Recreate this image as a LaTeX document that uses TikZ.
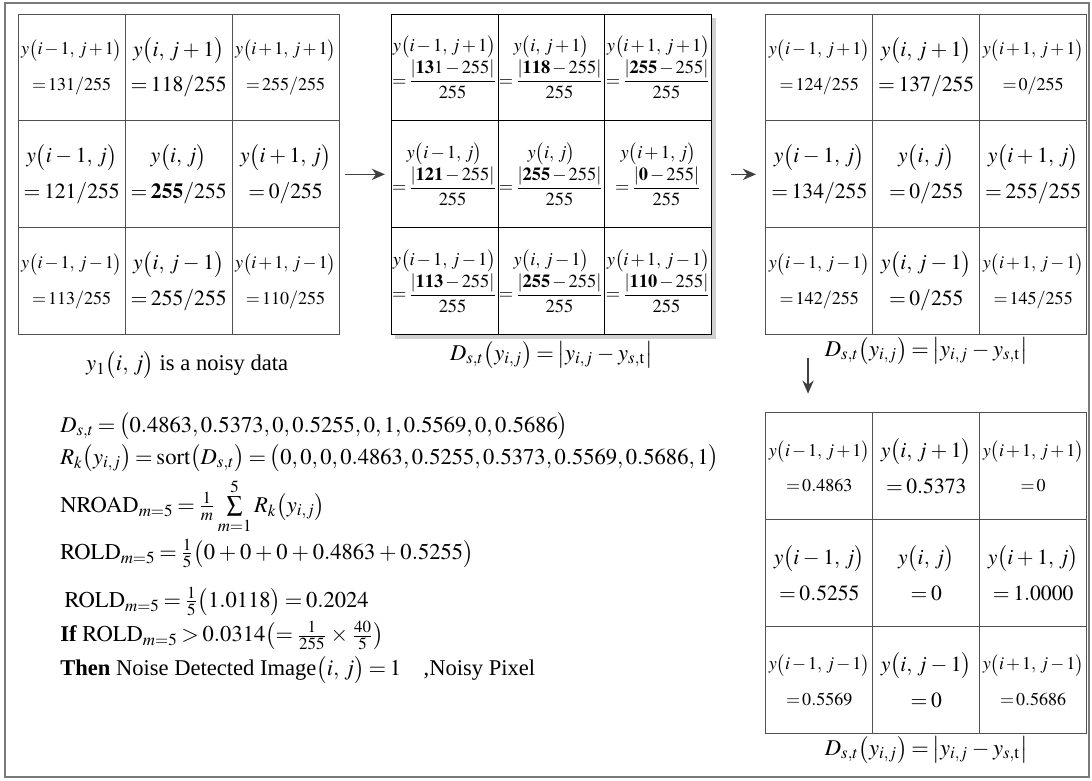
\documentclass[tikz,border=0pt]{standalone}
\usepackage{amsmath}
\usepackage{mathptmx}
\usepackage{fontspec}
\setmainfont{Liberation Serif}
\usetikzlibrary{arrows.meta,positioning}
\definecolor{gridline}{HTML}{505050}
\definecolor{framegray}{HTML}{7A7A7A}
\newcommand{\pix}[1]{y\bigl(#1\bigr)}
\newcommand{\absfrac}[1]{=\dfrac{\left|#1-255\right|}{255}}
\newcommand{\tightmath}{\thickmuskip=3mu\relax\medmuskip=3mu\relax}
\newcommand{\tightermath}{\thickmuskip=2mu\relax\medmuskip=2mu\relax}

\begin{document}
\begin{tikzpicture}[
  cell/.style={draw=gridline, fill=white, minimum width=2cm, minimum height=2cm, inner sep=0pt, align=center, font=\fontsize{11.5}{19}\selectfont\tightmath},
  corner/.style={cell, font=\fontsize{9.6}{19}\selectfont\tightermath},
  diffcell/.style={draw=black, fill=white, minimum width=2cm, minimum height=2cm, inner sep=0pt, align=center, font=\fontsize{9.8}{14}\selectfont\tightermath},
  caption/.style={font=\fontsize{12}{14}\selectfont\tightmath, inner sep=0pt},
  formula/.style={anchor=base west, inner sep=0pt, font=\fontsize{12}{15}\selectfont\tightmath},
  arrow/.style={-{Stealth[length=7pt,width=6pt]}, line width=0.8pt, draw=black!75}
]
\useasboundingbox (0,0) rectangle (20.42,-14.60);
\draw[framegray, line width=1.2pt] (0.09,-0.06) rectangle (20.36,-14.53);

\node[corner] (noisy11) at (1.34,-1.26) {$\pix{i-1,\,j+1}$\\$=131/255$};
\node[cell] (noisy12) at (3.34,-1.26) {$\pix{i,\,j+1}$\\$=118/255$};
\node[corner] (noisy13) at (5.34,-1.26) {$\pix{i+1,\,j+1}$\\$=255/255$};
\node[cell] (noisy21) at (1.34,-3.26) {$\pix{i-1,\,j}$\\$=121/255$};
\node[cell] (noisy22) at (3.34,-3.26) {$\pix{i,\,j}$\\$=\mathbf{255}/255$};
\node[cell] (noisy23) at (5.34,-3.26) {$\pix{i+1,\,j}$\\$=0/255$};
\node[corner] (noisy31) at (1.34,-5.26) {$\pix{i-1,\,j-1}$\\$=113/255$};
\node[cell] (noisy32) at (3.34,-5.26) {$\pix{i,\,j-1}$\\$=255/255$};
\node[corner] (noisy33) at (5.34,-5.26) {$\pix{i+1,\,j-1}$\\$=110/255$};
\node[caption] (noisycap) at (3.5,-6.83) {$y_1\bigl(i,\,j\bigr)$ is a noisy data};

\fill[black!18] (7.39,-0.34) rectangle (13.39,-6.34);
\node[diffcell] (absdiff11) at (8.31,-1.26) {$\pix{i-1,\,j+1}$\\$\absfrac{\mathbf{13}1}$};
\node[diffcell] (absdiff12) at (10.31,-1.26) {$\pix{i,\,j+1}$\\$\absfrac{\mathbf{118}}$};
\node[diffcell] (absdiff13) at (12.31,-1.26) {$\pix{i+1,\,j+1}$\\$\absfrac{\mathbf{255}}$};
\node[diffcell] (absdiff21) at (8.31,-3.26) {$\pix{i-1,\,j}$\\$\absfrac{\mathbf{121}}$};
\node[diffcell] (absdiff22) at (10.31,-3.26) {$\pix{i,\,j}$\\$\absfrac{\mathbf{255}}$};
\node[diffcell] (absdiff23) at (12.31,-3.26) {$\pix{i+1,\,j}$\\$\absfrac{\mathbf{0}}$};
\node[diffcell] (absdiff31) at (8.31,-5.26) {$\pix{i-1,\,j-1}$\\$\absfrac{\mathbf{113}}$};
\node[diffcell] (absdiff32) at (10.31,-5.26) {$\pix{i,\,j-1}$\\$\absfrac{\mathbf{255}}$};
\node[diffcell] (absdiff33) at (12.31,-5.26) {$\pix{i+1,\,j-1}$\\$\absfrac{\mathbf{110}}$};
\node[caption, below=3pt of absdiff32] (absdiffcap) {$D_{s,t}\bigl(y_{i,j}\bigr)=\bigl|y_{i,j}-y_{s,\mathrm{t}}\bigr|$};

\node[corner] (window11) at (15.32,-1.26) {$\pix{i-1,\,j+1}$\\$=124/255$};
\node[cell] (window12) at (17.32,-1.26) {$\pix{i,\,j+1}$\\$=137/255$};
\node[corner] (window13) at (19.32,-1.26) {$\pix{i+1,\,j+1}$\\$=0/255$};
\node[cell] (window21) at (15.32,-3.26) {$\pix{i-1,\,j}$\\$=134/255$};
\node[cell] (window22) at (17.32,-3.26) {$\pix{i,\,j}$\\$=0/255$};
\node[cell] (window23) at (19.32,-3.26) {$\pix{i+1,\,j}$\\$=255/255$};
\node[corner] (window31) at (15.32,-5.26) {$\pix{i-1,\,j-1}$\\$=142/255$};
\node[cell] (window32) at (17.32,-5.26) {$\pix{i,\,j-1}$\\$=0/255$};
\node[corner] (window33) at (19.32,-5.26) {$\pix{i+1,\,j-1}$\\$=145/255$};
\node[caption, below=1pt of window32] (windowcap) {$D_{s,t}\bigl(y_{i,j}\bigr)=\bigl|y_{i,j}-y_{s,\mathrm{t}}\bigr|$};

\node[corner] (dist11) at (15.32,-8.72) {$\pix{i-1,\,j+1}$\\$=0.4863$};
\node[cell] (dist12) at (17.32,-8.72) {$\pix{i,\,j+1}$\\$=0.5373$};
\node[corner] (dist13) at (19.32,-8.72) {$\pix{i+1,\,j+1}$\\$=0$};
\node[cell] (dist21) at (15.32,-10.72) {$\pix{i-1,\,j}$\\$=0.5255$};
\node[cell] (dist22) at (17.32,-10.72) {$\pix{i,\,j}$\\$=0$};
\node[cell] (dist23) at (19.32,-10.72) {$\pix{i+1,\,j}$\\$=1.0000$};
\node[corner] (dist31) at (15.32,-12.72) {$\pix{i-1,\,j-1}$\\$=0.5569$};
\node[cell] (dist32) at (17.32,-12.72) {$\pix{i,\,j-1}$\\$=0$};
\node[corner] (dist33) at (19.32,-12.72) {$\pix{i+1,\,j-1}$\\$=0.5686$};
\node[caption, below=1pt of dist32] (distcap) {$D_{s,t}\bigl(y_{i,j}\bigr)=\bigl|y_{i,j}-y_{s,\mathrm{t}}\bigr|$};

\draw[arrow, shorten <=3pt, shorten >=3pt] (noisy23) -- (absdiff21);
\draw[arrow, shorten <=10pt, shorten >=5pt] (absdiff23) -- (window21);
\draw[arrow, shorten <=12pt, shorten >=10pt] ([xshift=-0.21cm]window31.south) -- ([xshift=-0.21cm]dist11.north);

\node[formula] (dvec) at (1.12,-8.08) {$D_{s,t}=\bigl(0.4863,0.5373,0,0.5255,0,1,0.5569,0,0.5686\bigr)$};
\node[formula] (rank) at (1.12,-8.68) {$R_k\bigl(y_{i,j}\bigr)=\mathrm{sort}\bigl(D_{s,t}\bigr)=\bigl(0,0,0,0.4863,0.5255,0.5373,0.5569,0.5686,1\bigr)$};
\node[formula] (nroad) at (1.12,-9.58) {$\mathrm{NROAD}_{m=5}=\tfrac{1}{m}\sum\limits_{m=1}^{5}R_k\bigl(y_{i,j}\bigr)$};
\node[formula] (rold) at (1.12,-10.46) {$\mathrm{ROLD}_{m=5}=\tfrac{1}{5}\bigl(0+0+0+0.4863+0.5255\bigr)$};
\node[formula] (roldsum) at (1.2,-11.36) {$\mathrm{ROLD}_{m=5}=\tfrac{1}{5}\bigl(1.0118\bigr)=0.2024$};
\node[formula] (rule) at (1.12,-12.0) {\textbf{If} $\mathrm{ROLD}_{m=5}>0.0314\bigl(=\tfrac{1}{255}\times\tfrac{40}{5}\bigr)$};
\node[formula] (result) at (1.12,-12.64) {\textbf{Then} Noise Detected Image$\bigl(i,\,j\bigr)=1$\quad ,Noisy Pixel};
\end{tikzpicture}
\end{document}
